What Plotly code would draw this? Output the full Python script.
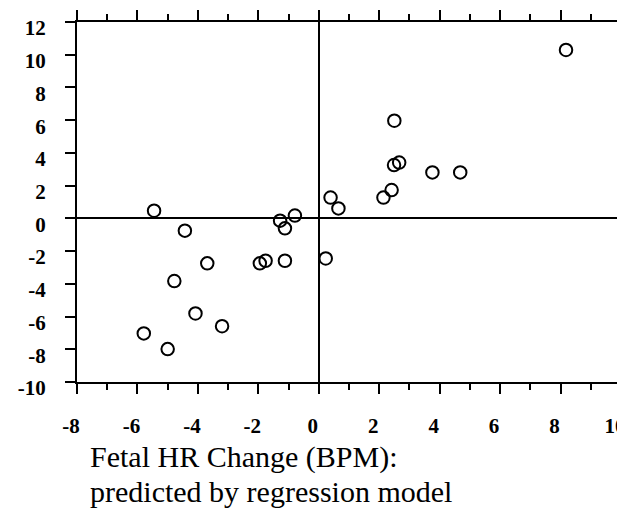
import plotly.graph_objects as go

# Predicted (x) vs observed (y) fetal HR change, BPM
predicted = [-5.45, -4.43, -1.28, -1.12, -0.79,
             -3.69, -4.78, -4.08, -3.20, -5.79, -5.00, -1.95, -1.76, -1.12,
             8.18, 2.50, 2.49, 2.66, 3.76, 4.68, 0.39, 0.65, 2.14, 2.41, 0.23]
observed = [0.47, -0.75, -0.14, -0.61, 0.17,
            -2.75, -3.83, -5.81, -6.59, -7.03, -7.99, -2.75, -2.59, -2.59,
            10.29, 5.97, 3.26, 3.41, 2.81, 2.81, 1.27, 0.61, 1.27, 1.73, -2.45]

x_tick_vals = [-8, -6, -4, -2, 0, 2, 4, 6, 8, 10]
y_tick_vals = [-10, -8, -6, -4, -2, 0, 2, 4, 6, 8, 10, 12]
x_tick_text = [str(v) for v in x_tick_vals]
y_tick_text = [str(v) for v in y_tick_vals]
title_line1 = "Fetal HR Change (BPM):"
title_line2 = "predicted by regression model"

serif = "Liberation Serif"

fig = go.Figure()
fig.add_trace(go.Scatter(
    x=predicted, y=observed, mode="markers",
    marker=dict(symbol="circle-open", size=12.5, color="black",
                line=dict(color="black", width=2)),
    showlegend=False, cliponaxis=False,
))

axis_common = dict(
    showline=True, linecolor="black", linewidth=2, mirror="ticks",
    ticks="outside", ticklen=10, tickwidth=2, tickcolor="black",
    showgrid=False, zeroline=True, zerolinecolor="black", zerolinewidth=1.5,
    automargin=False, ticklabeloverflow="allow",
    tickfont=dict(family=serif, size=21, color="black", weight="bold"),
)

# page shows the figure offset by the body margin
OFF = 8
W, H = 625, 514
L, R, T, B = 77 - OFF, 621 - OFF, 22 - OFF, 382 - OFF

fig.update_layout(
    template="none",
    width=W, height=H,
    margin=dict(l=L, r=W - R, t=T, b=H - B),
    paper_bgcolor="white", plot_bgcolor="white",
    xaxis=dict(range=[-8, 10], tickvals=x_tick_vals, ticktext=x_tick_text,
               ticklabelstandoff=14, ticklabelshift=-6,
               minor=dict(dtick=1, ticks="outside", ticklen=6, tickwidth=2,
                          tickcolor="black", showgrid=False),
               **axis_common),
    yaxis=dict(range=[-10, 12], tickvals=y_tick_vals, ticktext=y_tick_text,
               ticklabelstandoff=15, ticklabelshift=6,
               **axis_common),
)

ann_x = (88 - OFF - L) / (R - L)
fig.add_annotation(text=title_line1, xref="paper", yref="paper",
                   x=ann_x, y=-(457 - OFF - B) / (B - T),
                   xanchor="left", yanchor="middle", showarrow=False,
                   font=dict(family=serif, size=30, color="black"))
fig.add_annotation(text=title_line2, xref="paper", yref="paper",
                   x=ann_x, y=-(491 - OFF - B) / (B - T),
                   xanchor="left", yanchor="middle", showarrow=False,
                   font=dict(family=serif, size=30, color="black"))

fig.write_html("out.html")
